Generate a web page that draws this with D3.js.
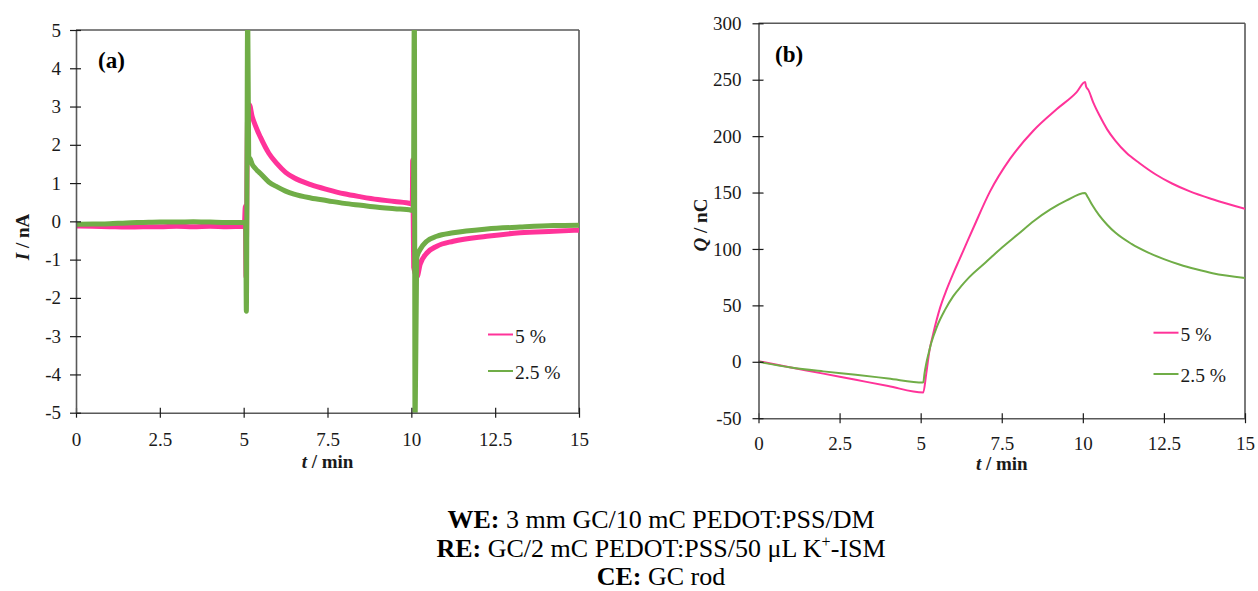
<!DOCTYPE html>
<html>
<head>
<meta charset="utf-8">
<script src="https://cdn.jsdelivr.net/npm/d3@7"></script>
<style>
  body { margin: 0; background: #fff; }
  svg { display: block; }
  text { font-family: "Liberation Serif", "Times New Roman", serif; }
</style>
</head>
<body>
<svg id="chart" width="1258" height="591"></svg>
<script>
// ---- data -------------------------------------------------------------
const seriesNames = ["5 %", "2.5 %"];
const seriesColors = ["#FF3399", "#70AD47"];

const timeTicks = [0, 2.5, 5, 7.5, 10, 12.5, 15];
const currentTicks = [-5, -4, -3, -2, -1, 0, 1, 2, 3, 4, 5];
const chargeTicks = [-50, 0, 50, 100, 150, 200, 250, 300];

// (a) current, [t / min, I / nA]
const current5 = [
  [0, -0.12], [0.5, -0.13], [1, -0.14], [1.5, -0.15], [2, -0.14], [2.5, -0.14],
  [3, -0.13], [3.5, -0.14], [4, -0.13], [4.5, -0.14], [5.02, -0.13],
  [5.05, 0.4], [5.07, -1.45], [5.12, 3.0], [5.17, 3.05], [5.25, 2.75],
  [5.35, 2.5], [5.5, 2.2], [5.75, 1.78], [6.0, 1.5], [6.25, 1.28], [6.5, 1.14],
  [7.0, 0.96], [7.5, 0.83], [8.0, 0.72], [8.5, 0.64], [9.0, 0.57], [9.5, 0.52],
  [10.0, 0.46], [10.03, 0.45], [10.04, 1.6], [10.07, -1.2], [10.17, -1.45],
  [10.26, -1.13], [10.46, -0.83], [10.76, -0.65], [11.25, -0.52], [12.25, -0.39],
  [13.24, -0.3], [14.24, -0.26], [15, -0.23]
];
const current25 = [
  [0, -0.08], [0.5, -0.07], [1, -0.06], [1.5, -0.04], [2, -0.03], [2.5, -0.02],
  [3, -0.02], [3.5, -0.01], [4, -0.02], [4.5, -0.03], [5.03, -0.03],
  [5.06, -0.05], [5.08, -2.35], [5.12, 5.6], [5.15, 1.7], [5.2, 1.62],
  [5.25, 1.5], [5.35, 1.38], [5.5, 1.25], [5.75, 1.03], [6.0, 0.9], [6.25, 0.79],
  [6.5, 0.71], [7.0, 0.61], [7.5, 0.54], [8.0, 0.47], [8.5, 0.42], [9.0, 0.37],
  [9.5, 0.33], [10.0, 0.29], [10.06, 0.27], [10.09, 5.6], [10.11, -5.6],
  [10.16, -0.96], [10.26, -0.74], [10.46, -0.52], [10.76, -0.39], [11.25, -0.3],
  [12.25, -0.2], [13.24, -0.15], [14.24, -0.11], [15, -0.1]
];

// (b) charge, [t / min, Q / nC]
const charge5 = [
  [0, 0.5], [1, -5], [2, -10.5], [3, -16], [4, -21.5], [5.08, -27.2],
  [5.17, -11], [5.27, 9.8], [5.38, 24], [5.6, 48], [5.8, 64], [6.0, 78],
  [6.2, 91], [6.46, 108], [6.63, 119], [7.14, 151], [7.76, 180], [8.48, 205],
  [9.2, 224], [9.81, 239], [10.07, 248], [10.1, 244], [10.17, 241],
  [10.32, 230], [10.52, 218], [10.75, 206], [11.0, 196], [11.35, 185],
  [11.75, 176], [12.25, 166], [12.75, 158], [13.3, 151], [14.0, 144], [15, 135.5]
];
const charge25 = [
  [0, 0], [1, -5], [2, -8.5], [3, -11.5], [4, -14.8], [5.08, -18.4],
  [5.12, -10], [5.17, -2], [5.25, 8], [5.33, 17], [5.5, 31], [5.75, 46],
  [6.0, 58], [6.25, 67], [6.5, 75], [7.0, 88], [7.5, 101], [8.0, 113],
  [8.5, 125], [9.0, 135], [9.5, 143], [10.07, 149.5], [10.15, 146],
  [10.3, 138.5], [10.5, 130], [10.75, 121.5], [11.0, 114.5], [11.5, 104.5],
  [12.0, 97], [12.5, 91], [13.0, 86], [13.5, 82], [14.0, 78.5], [15, 74.3]
];

// ---- drawing ------------------------------------------------------------
const svg = d3.select("#chart");
const axisColor = "#595959";
const labelColor = "#1a1a1a";

function drawPanel(cfg) {
  const g = svg.append("g");
  const x = d3.scaleLinear().domain([0, 15]).range([cfg.left, cfg.right]);
  const y = d3.scaleLinear().domain(cfg.yDomain).range([cfg.bottom, cfg.top]);

  const clipId = "clip-" + cfg.id;
  svg.append("clipPath").attr("id", clipId).append("rect")
    .attr("x", cfg.left).attr("y", cfg.top)
    .attr("width", cfg.right - cfg.left).attr("height", cfg.bottom - cfg.top);

  // frame: top and right edges
  g.append("line").attr("x1", cfg.left).attr("x2", cfg.right)
    .attr("y1", cfg.top).attr("y2", cfg.top)
    .attr("stroke", axisColor).attr("stroke-width", 1.6);
  g.append("line").attr("x1", cfg.right).attr("x2", cfg.right)
    .attr("y1", cfg.top).attr("y2", cfg.bottom)
    .attr("stroke", axisColor).attr("stroke-width", 1.6);

  // series
  const line = d3.line().curve(d3.curveMonotoneX).x(d => x(d[0])).y(d => y(d[1]));
  const plot = g.append("g").attr("clip-path", `url(#${clipId})`);
  cfg.series.forEach((s, i) => {
    plot.append("path").datum(s)
      .attr("d", line)
      .attr("fill", "none")
      .attr("stroke", seriesColors[i])
      .attr("stroke-width", cfg.lineWidth)
      .attr("stroke-linejoin", "round")
      .attr("stroke-linecap", "round");
  });

  // axes
  const fmt = d => String(d);
  const xAxis = g.append("g").attr("transform", `translate(0,${cfg.bottom})`)
    .call(d3.axisBottom(x).tickValues(timeTicks).tickFormat(fmt)
      .tickSize(5).tickSizeOuter(0).tickPadding(cfg.xPad));
  const yAxis = g.append("g").attr("transform", `translate(${cfg.left},0)`)
    .call(d3.axisLeft(y).tickValues(cfg.yTicks).tickFormat(fmt)
      .tickSize(6).tickSizeOuter(0).tickPadding(cfg.yPad));
  [xAxis, yAxis].forEach(a => {
    a.select(".domain").attr("stroke", axisColor).attr("stroke-width", 1.6);
    a.selectAll(".tick line").attr("stroke", labelColor).attr("stroke-width", 1.2);
    a.selectAll(".tick text").attr("font-size", 19).attr("fill", labelColor)
      .attr("font-family", '"Liberation Serif", serif');
  });
  xAxis.selectAll(".tick line").attr("y1", -5);
  yAxis.selectAll(".tick line").attr("x1", 5);

  // axis titles
  const xt = g.append("text").attr("x", (cfg.left + cfg.right) / 2).attr("y", cfg.xTitleY)
    .attr("text-anchor", "middle").attr("font-size", 19).attr("font-weight", "bold")
    .attr("fill", labelColor);
  xt.append("tspan").attr("font-style", "italic").text("t");
  xt.append("tspan").text(" / min");

  const yt = g.append("text")
    .attr("transform", `translate(${cfg.yTitleX},${cfg.yTitleY}) rotate(-90)`)
    .attr("text-anchor", "middle").attr("font-size", 19).attr("font-weight", "bold")
    .attr("fill", labelColor);
  yt.append("tspan").attr("font-style", "italic").text(cfg.yVar);
  yt.append("tspan").text(" / " + cfg.yUnit);

  // panel tag
  g.append("text").attr("x", cfg.tagX).attr("y", cfg.tagY)
    .attr("font-size", 23).attr("font-weight", "bold").attr("fill", "#000")
    .text(cfg.tag);

  // legend
  seriesNames.forEach((name, i) => {
    const ly = cfg.legendY[i];
    g.append("line").attr("x1", cfg.legendX).attr("x2", cfg.legendX + 25)
      .attr("y1", ly).attr("y2", ly)
      .attr("stroke", seriesColors[i]).attr("stroke-width", 2);
    g.append("text").attr("x", cfg.legendX + 27).attr("y", ly + 8)
      .attr("font-size", 19.5).attr("fill", labelColor).text(name);
  });
}

drawPanel({
  id: "a", left: 76, right: 579, top: 30, bottom: 412.7,
  yDomain: [-5, 5], yTicks: currentTicks, series: [current5, current25],
  lineWidth: 5, xPad: 15, yPad: 9, xTitleY: 468,
  yTitleX: 29, yTitleY: 237, yVar: "I", yUnit: "nA",
  tag: "(a)", tagX: 98, tagY: 68,
  legendX: 488, legendY: [334.5, 371]
});

drawPanel({
  id: "b", left: 758.5, right: 1245, top: 23.3, bottom: 418.2,
  yDomain: [-50, 300], yTicks: chargeTicks, series: [charge5, charge25],
  lineWidth: 2, xPad: 13, yPad: 11, xTitleY: 470,
  yTitleX: 707, yTitleY: 225, yVar: "Q", yUnit: "nC",
  tag: "(b)", tagX: 775, tagY: 62,
  legendX: 1153.5, legendY: [332.7, 374]
});

// electrode description
const notes = [
  ["WE:", " 3 mm GC/10 mC PEDOT:PSS/DM"],
  ["RE:", " GC/2 mC PEDOT:PSS/50 \u03bcL K", "+", "-ISM"],
  ["CE:", " GC rod"]
];
const noteY = [528, 557, 585];
notes.forEach((parts, i) => {
  const t = svg.append("text").attr("x", 661).attr("y", noteY[i])
    .attr("text-anchor", "middle").attr("font-size", 26).attr("fill", "#000");
  t.append("tspan").attr("font-weight", "bold").text(parts[0]);
  t.append("tspan").text(parts[1]);
  if (parts.length > 2) {
    t.append("tspan").attr("font-size", 16).attr("dy", -10).text(parts[2]);
    t.append("tspan").attr("dy", 10).text(parts[3]);
  }
});
</script>
</body>
</html>
